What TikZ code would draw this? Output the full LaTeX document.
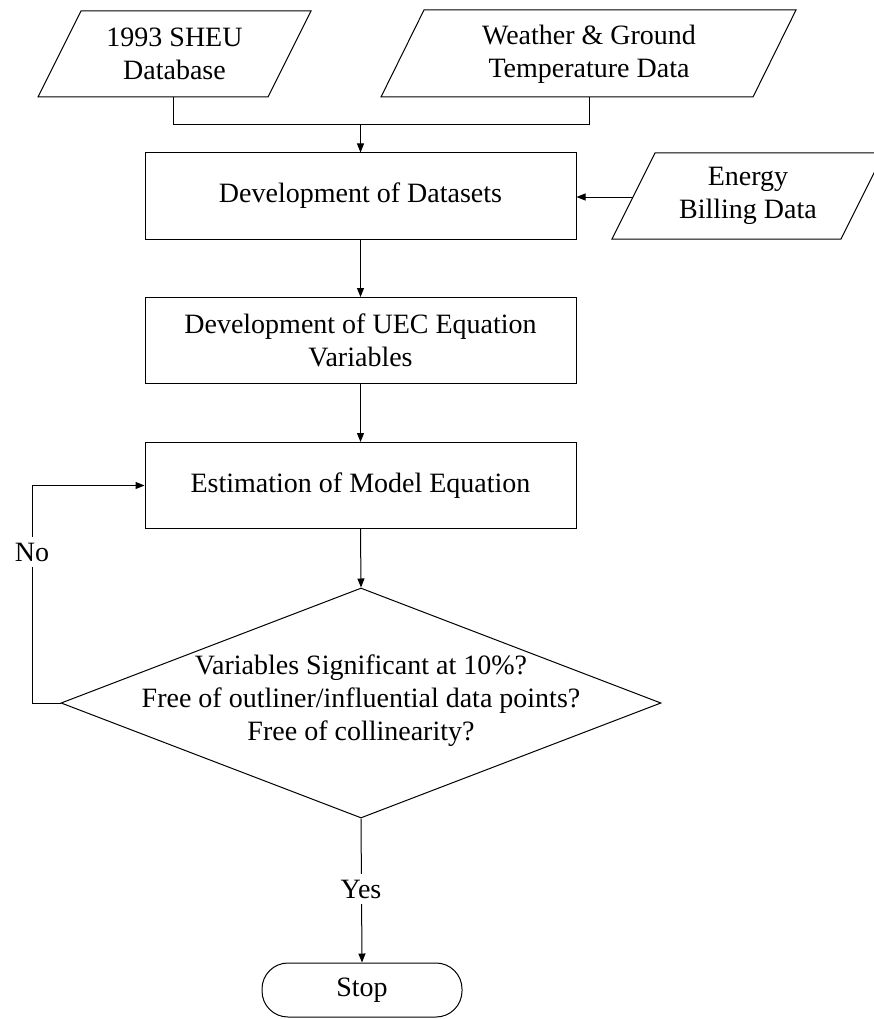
\documentclass[tikz,border=0pt]{standalone}
\usepackage{fontspec}
\setmainfont{Liberation Serif}
\usetikzlibrary{arrows.meta,shapes.geometric}
\begin{document}
\begin{tikzpicture}[x=1pt,y=-1pt,
  every node/.style={font=\fontsize{28}{33}\selectfont, align=center},
  line/.style={draw=black, line width=1pt},
  arr/.style={line, -{Triangle[length=9pt,width=7pt]}},
  procbox/.style={draw=black, line width=1pt, minimum width=431pt, minimum height=86pt, inner sep=0pt},
  lbl/.style={fill=white, inner xsep=2pt, inner ysep=6pt}]
\useasboundingbox (0,0) rectangle (873,1019);

% input parallelograms
\draw[line] (38,97) -- (268,97) -- (311,11) -- (81,11) -- cycle;
\node (sheu) at (174.5,54) {1993 SHEU\\Database};
\draw[line] (381,97) -- (753,97) -- (796,10) -- (424,10) -- cycle;
\node (wth) at (589,54) {Weather \& Ground\\Temperature Data};
\draw[line] (612,239) -- (841,239) -- (884,153) -- (655,153) -- cycle;
\node (en) at (748,196) {Energy\\Billing Data};

\coordinate (sheuB) at (173,97);
\coordinate (wthB) at (589,97);
\coordinate (join) at (360.5,125);
\coordinate (enL) at (633,197);

% process boxes
\node[procbox] (ds) at (360.5,196) {Development of Datasets};
\node[procbox] (uec) at (360.5,340.5) {Development of UEC Equation\\Variables};
\node[procbox] (est) at (360.5,485.5) {Estimation of Model Equation};

% decision
\node[draw=black, line width=1pt, diamond, minimum width=600pt, minimum height=230pt, inner sep=0pt] (dia) at (361,703) {};
\node (diaText) at (361,701) {Variables Significant at 10\%?\\Free of outliner/influential data points?\\Free of collinearity?};

% stop
\node[draw=black, line width=1pt, rounded corners=26pt, minimum width=200pt, minimum height=54pt, inner sep=0pt] (stop) at (362,990) {Stop};

% connectors
\draw[line] (sheuB) |- (wthB |- join) -- (wthB);
\draw[arr] (join) -- (ds.north);
\draw[arr] (enL) -- (enL -| ds.east);
\draw[arr] (ds.south) -- (uec.north);
\draw[arr] (uec.south) -- (est.north);
\draw[arr] (est.south) -- (dia.north);
\coordinate (noCorner) at (32,703);
\draw[arr] (dia.west) -- (noCorner) |- (est.west);
\node[lbl] (no) at (32,552) {No};
\draw[arr] (dia.south) -- (stop.north);
\node[lbl] (yes) at (361,889) {Yes};
\end{tikzpicture}
\end{document}
